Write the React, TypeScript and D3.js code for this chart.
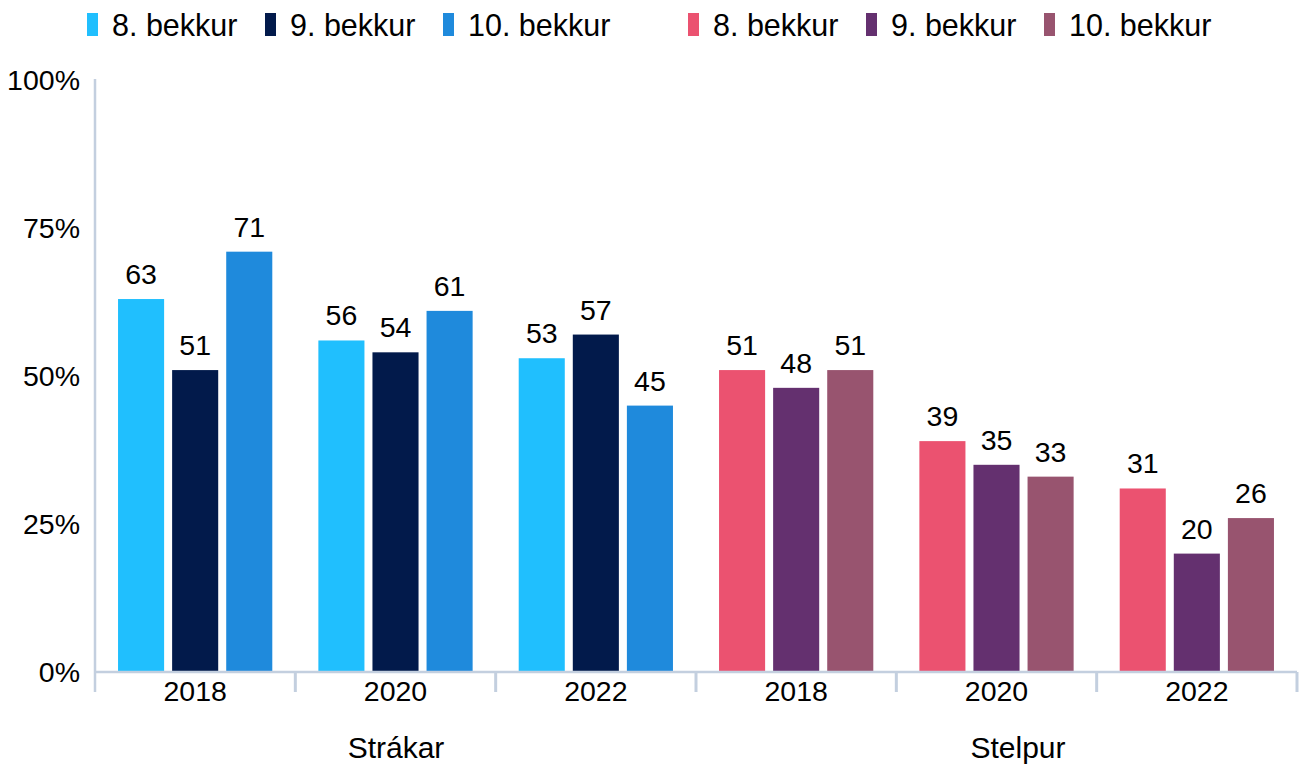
import React from "react";
import * as d3 from "d3";

const genders = ["Strákar", "Stelpur"];
const years = ["2018", "2020", "2022"];
const grades = ["8. bekkur", "9. bekkur", "10. bekkur"];
const boys8 = [63, 56, 53];
const boys9 = [51, 54, 57];
const boys10 = [71, 61, 45];
const girls8 = [51, 39, 31];
const girls9 = [48, 35, 20];
const girls10 = [51, 33, 26];
const yTicks = [0, 25, 50, 75, 100];

const boyColors = ["#20BFFE", "#021A4B", "#1F8ADC"];
const girlColors = ["#EB5270", "#64306F", "#98546F"];

const W = 1305;
const H = 765;
const FONT = "'Liberation Sans', Arial, sans-serif";

export default function App() {
  const left = 95;
  const right = 1297;
  const y = d3.scaleLinear().domain([0, 100]).range([672, 80]);
  const groups = genders.flatMap((g) => years.map((yr) => `${g}|${yr}`));
  const xg = d3.scaleBand<string>().domain(groups).range([left, right]).padding(0);
  const xb = d3
    .scaleBand<string>()
    .domain(grades)
    .range([0, xg.bandwidth()])
    .paddingInner(8 / 54)
    .paddingOuter(23 / 54);

  const series = [
    { gender: "Strákar", values: [boys8, boys9, boys10], colors: boyColors },
    { gender: "Stelpur", values: [girls8, girls9, girls10], colors: girlColors },
  ];

  const axisColor = "#C3CFDF";
  const legendStarts = [87, 688];

  return (
    <svg width={W} height={H} style={{ position: "absolute", left: 0, top: 0, background: "#fff" }} fontFamily={FONT}>
      <rect x={0} y={0} width={W} height={H} fill="#fff" />
      {series.map((s, si) =>
        grades.map((gr, gi) => {
          const x0 = legendStarts[si] + gi * 178;
          return (
            <g key={`lg-${si}-${gi}`}>
              <rect x={x0} y={13} width={11} height={23} fill={s.colors[gi]} />
              <text x={x0 + 25} y={36} fontSize={30.5} fill="#000">
                {gr}
              </text>
            </g>
          );
        })
      )}
      <line x1={left} x2={left} y1={79} y2={692} stroke={axisColor} strokeWidth={2.5} />
      {yTicks.map((t) => (
        <text key={t} x={80} y={y(t) + 10} fontSize={28.5} textAnchor="end" fill="#000">
          {t}%
        </text>
      ))}
      {series.map((s) =>
        years.map((yr, yi) =>
          grades.map((gr, gi) => {
            const v = s.values[gi][yi];
            const gx = xg(`${s.gender}|${yr}`)!;
            const bx = gx + xb(gr)!;
            return (
              <g key={`${s.gender}-${yr}-${gr}`}>
                <rect x={bx} y={y(v)} width={xb.bandwidth()} height={y(0) - y(v)} fill={s.colors[gi]} />
                <text x={bx + xb.bandwidth() / 2} y={y(v) - 15} fontSize={28.5} textAnchor="middle" fill="#000">
                  {v}
                </text>
              </g>
            );
          })
        )
      )}
      <line x1={left} x2={right} y1={672} y2={672} stroke={axisColor} strokeWidth={2.5} />
      {groups.map((g) => (
        <line key={`t-${g}`} x1={xg(g)! + xg.bandwidth()} x2={xg(g)! + xg.bandwidth()} y1={672} y2={692} stroke={axisColor} strokeWidth={3} />
      ))}
      {groups.map((g) => (
        <text key={`yl-${g}`} x={xg(g)! + xg.bandwidth() / 2} y={701} fontSize={28.5} textAnchor="middle" fill="#000">
          {g.split("|")[1]}
        </text>
      ))}
      <text x={396} y={758} fontSize={30} textAnchor="middle" fill="#000">
        {genders[0]}
      </text>
      <text x={1018} y={758} fontSize={30} textAnchor="middle" fill="#000">
        {genders[1]}
      </text>
    </svg>
  );
}
